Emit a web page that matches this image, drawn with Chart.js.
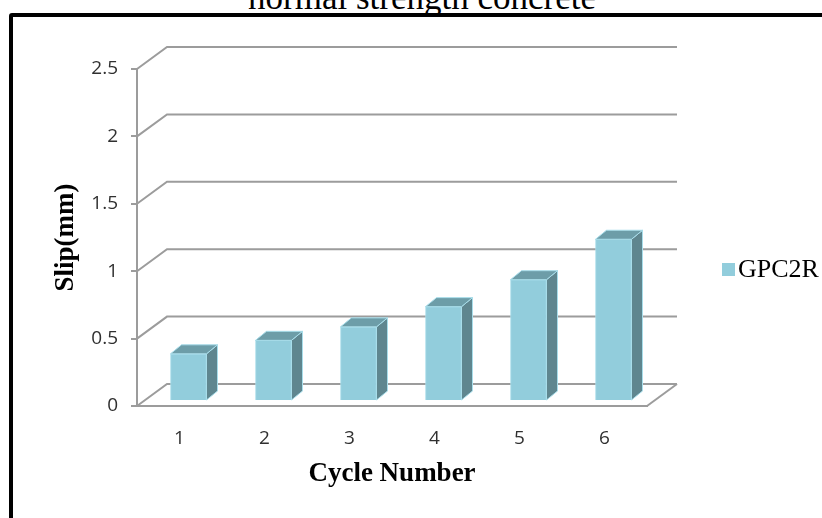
<!DOCTYPE html>
<html>
<head>
<meta charset="utf-8">
<script src="https://cdn.jsdelivr.net/npm/chart.js@4.4.1/dist/chart.umd.min.js"></script>
<style>
  html, body { margin: 0; padding: 0; background: #fff; }
  #wrap { position: relative; width: 822px; height: 518px; overflow: hidden; background: #fff; }
  #c { position: absolute; left: 0; top: 0; }
  #frame { position: absolute; left: 9px; top: 13px; width: 900px; height: 600px;
           border: 4px solid #000; border-radius: 3px; box-sizing: border-box; pointer-events: none; }
  #title { position: absolute; left: 0; width: 844px; top: -22px; text-align: center;
           font-family: "Liberation Serif", serif; font-size: 35px; color: #000; white-space: nowrap; }
</style>
</head>
<body>
<div id="wrap">
  <div id="title">normal strength concrete</div>
  <canvas id="c" width="822" height="518"></canvas>
  <div id="frame"></div>
</div>
<script>
// ---- data ----
const categories = ['1', '2', '3', '4', '5', '6'];
const seriesName = 'GPC2R';
const slipValues = [0.35, 0.45, 0.55, 0.70, 0.90, 1.20];
const yTickValues = [0, 0.5, 1, 1.5, 2, 2.5];
const yTickLabels = ['0', '0.5', '1', '1.5', '2', '2.5'];
const xTitle = 'Cycle Number';
const yTitle = 'Slip(mm)';

// ---- style ----
const GRID = '#9c9c9c';
const WALL_DX = 30, WALL_DY = -22;
const BAR_DX = 9, BAR_DY = -5;
const SIDE_DX = 11, SIDE_DY = -9;
const FRONT = '#92CDDC', SIDE = '#5F868F', TOP = '#6D9DA8', EDGE = '#A8DDEA';

const box3d = {
  id: 'box3d',
  beforeDatasetsDraw(chart) {
    const ctx = chart.ctx, ys = chart.scales.y, a = chart.chartArea;
    ctx.save();
    ctx.strokeStyle = GRID; ctx.lineWidth = 2; ctx.lineJoin = 'miter';
    ys.ticks.forEach(t => {
      const py = ys.getPixelForValue(t.value);
      ctx.beginPath();
      ctx.moveTo(a.left, py);
      ctx.lineTo(a.left + WALL_DX, py + WALL_DY);
      ctx.lineTo(a.right + WALL_DX, py + WALL_DY);
      ctx.stroke();
    });
    const p0 = ys.getPixelForValue(0);
    ctx.beginPath();
    ctx.moveTo(a.right, p0);
    ctx.lineTo(a.right + WALL_DX, p0 + WALL_DY);
    ctx.stroke();
    ctx.restore();
    ctx.save();
    ctx.translate(BAR_DX, BAR_DY);
  },
  afterDatasetsDraw(chart) {
    const ctx = chart.ctx;
    const meta = chart.getDatasetMeta(0);
    meta.data.forEach(bar => {
      const p = bar.getProps(['x', 'y', 'base', 'width'], true);
      const xl = p.x - p.width / 2, xr = p.x + p.width / 2, top = p.y, base = p.base;
      ctx.lineWidth = 1; ctx.strokeStyle = EDGE; ctx.lineJoin = 'round';
      ctx.beginPath();
      ctx.moveTo(xr, top); ctx.lineTo(xr + SIDE_DX, top + SIDE_DY);
      ctx.lineTo(xr + SIDE_DX, base + SIDE_DY); ctx.lineTo(xr, base); ctx.closePath();
      ctx.fillStyle = SIDE; ctx.fill(); ctx.stroke();
      ctx.beginPath();
      ctx.moveTo(xl, top); ctx.lineTo(xl + SIDE_DX, top + SIDE_DY);
      ctx.lineTo(xr + SIDE_DX, top + SIDE_DY); ctx.lineTo(xr, top); ctx.closePath();
      ctx.fillStyle = TOP; ctx.fill(); ctx.stroke();
    });
    ctx.restore();
  },
  afterDraw(chart) {
    const ctx = chart.ctx;
    ctx.save();
    ctx.fillStyle = FRONT;
    ctx.fillRect(722, 263, 13, 13);
    ctx.fillStyle = '#000';
    ctx.font = '26px "Liberation Serif"';
    ctx.textBaseline = 'middle';
    ctx.textAlign = 'left';
    ctx.fillText(chart.data.datasets[0].label, 738, 270);
    ctx.restore();
  }
};

new Chart(document.getElementById('c'), {
  type: 'bar',
  data: {
    labels: categories,
    datasets: [{
      label: seriesName,
      data: slipValues,
      backgroundColor: FRONT,
      borderColor: EDGE,
      borderWidth: 1,
      barThickness: 36
    }]
  },
  options: {
    responsive: false,
    animation: false,
    devicePixelRatio: 1,
    layout: { padding: { left: 0, right: 175, top: 69, bottom: 0 } },
    plugins: { legend: { display: false }, tooltip: { enabled: false }, title: { display: false } },
    scales: {
      x: {
        offset: true,
        grid: { display: false, drawTicks: false },
        border: { display: true, color: GRID, width: 2 },
        ticks: { color: '#303030', padding: 21, font: { family: 'Open Sans', size: 19 } },
        title: { display: true, text: xTitle, color: '#000', padding: { top: 0, bottom: 28 },
                 font: { family: 'Liberation Serif', size: 27, weight: 'bold' } },
        afterFit: s => { s.height = 112; }
      },
      y: {
        min: 0, max: 2.5,
        afterBuildTicks: s => { s.ticks = yTickValues.map(v => ({ value: v })); },
        grid: { drawOnChartArea: false, drawTicks: true, tickLength: 6, color: GRID, lineWidth: 2 },
        border: { display: true, color: GRID, width: 2 },
        ticks: { color: '#303030', padding: 13, font: { family: 'Open Sans', size: 19 },
                 callback: (v, i) => yTickLabels[i] },
        title: { display: true, text: yTitle, color: '#000', padding: { top: 50, bottom: 0 },
                 font: { family: 'Liberation Serif', size: 27, weight: 'bold' } },
        afterFit: s => { s.width = 137; }
      }
    }
  },
  plugins: [box3d]
});
</script>
</body>
</html>
